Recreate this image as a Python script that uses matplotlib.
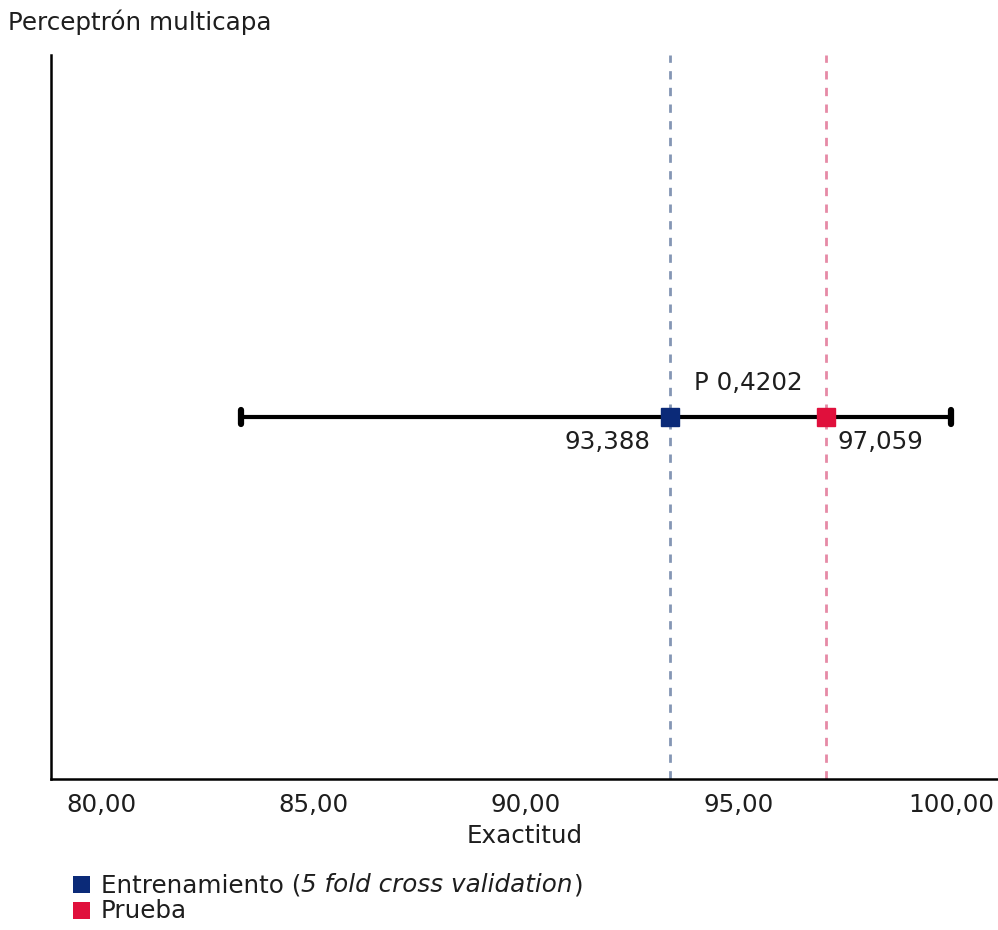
import matplotlib
matplotlib.use("Agg")
import matplotlib.pyplot as plt
from matplotlib.patches import Rectangle
from matplotlib.markers import MarkerStyle

plt.rcParams['font.family'] = ['DejaVu Sans']

# Data
series_names = ["Entrenamiento", "Prueba"]
legend_note = "5 fold cross validation"
series_values = [93.388, 97.059]
series_labels = ["93,388", "97,059"]
interval = [83.3, 100.0]
p_label = "P 0,4202"
xticks = [80, 85, 90, 95, 100]
xtick_labels = ["80,00", "85,00", "90,00", "95,00", "100,00"]
title = "Perceptrón multicapa"
xlabel = "Exactitud"

marker_colors = ["#0b2a78", "#e0103c"]
line_colors = ["#8496b4", "#e68aa6"]
text_color = "#1e1e1e"
FS = 17.7

W, H = 998, 930
fig = plt.figure(figsize=(W / 100, H / 100), dpi=100)
ax = fig.add_axes([51 / W, 1 - 779 / H, 1 - 51 / W, (779 - 55) / H])

ax.set_xlim(78.82, 101.106)
ax.set_ylim(0, 1)
y0 = 0.5

# vertical dashed reference lines
for v, c in zip(series_values, line_colors):
    ax.axvline(v, color=c, linestyle=(0, (3, 3)), linewidth=2, zorder=1)

# interval with caps
half = (interval[1] - interval[0]) / 2
eb = ax.errorbar([(interval[0] + interval[1]) / 2], [y0], xerr=[[half], [half]],
                 fmt='none', ecolor='black', elinewidth=3, capsize=5.2, capthick=4.5, zorder=2)
for cap in eb[1]:
    cap.set_marker(MarkerStyle('|', capstyle='round'))

# markers
for v, c in zip(series_values, marker_colors):
    ax.plot([v], [y0], marker='s', markersize=13, color=c, linestyle='none', zorder=3)

# value labels
ax.annotate(series_labels[0], (series_values[0], y0), xytext=(-20, -25),
            textcoords='offset pixels', ha='right', va='center', fontsize=FS, color=text_color)
ax.annotate(series_labels[1], (series_values[1], y0), xytext=(11, -25),
            textcoords='offset pixels', ha='left', va='center', fontsize=FS, color=text_color)
ax.annotate(p_label, ((series_values[0] + series_values[1]) / 2, y0), xytext=(0, 34),
            textcoords='offset pixels', ha='center', va='center', fontsize=FS, color=text_color)

# axes styling
for s in ['top', 'right']:
    ax.spines[s].set_visible(False)
ax.spines['left'].set_linewidth(1.8)
ax.spines['bottom'].set_linewidth(1.8)
ax.set_yticks([])
ax.set_xticks(xticks)
ax.set_xticklabels(xtick_labels, fontsize=FS, color=text_color)
ax.tick_params(axis='x', length=0, pad=10)
ax.set_xlabel(xlabel, fontsize=FS, color=text_color, labelpad=5)

fig.text(8 / W, 1 - 22 / H, title, fontsize=FS, ha='left', va='center', color=text_color)

# manual legend (mixed upright / italic text)
fig.canvas.draw()
renderer = fig.canvas.get_renderer()
rows_y = [885, 911]
for i, (name, c) in enumerate(zip(series_names, marker_colors)):
    yc = rows_y[i]
    fig.patches.append(Rectangle((73 / W, 1 - (yc + 8) / H), 17 / W, 17 / H,
                                 transform=fig.transFigure, facecolor=c, edgecolor='none'))
    ybase = 1 - (yc + 7) / H
    if i == 0:
        pieces = [(name + " (", 'normal'), (legend_note, 'italic'), (")", 'normal')]
    else:
        pieces = [(name, 'normal')]
    x = 101 / W
    for txt, style in pieces:
        t = fig.text(x, ybase, txt, fontsize=FS, style=style, ha='left', va='baseline', color=text_color)
        bb = t.get_window_extent(renderer=renderer)
        x += bb.width / W

fig.savefig("out.png", dpi=100)
